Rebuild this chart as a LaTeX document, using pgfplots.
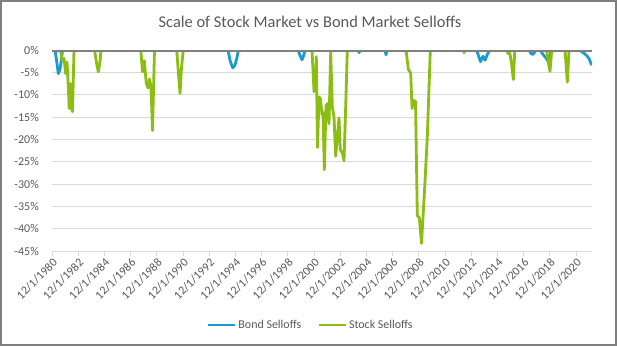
\documentclass[border=0pt]{standalone}
\usepackage{fontspec}
\setmainfont{Carlito}
\usepackage{pgfplots}
\usepackage{pgfplotstable}
\pgfplotsset{compat=1.18}
\definecolor{bondblue}{HTML}{1A9AD0}
\definecolor{stockgreen}{HTML}{8CBD14}
\definecolor{txtgray}{HTML}{595959}
\definecolor{gridgray}{HTML}{D9D9D9}
\definecolor{framegray}{HTML}{7F7F7F}
\definecolor{zerogray}{HTML}{808080}

\pgfplotstableread{
year val
1981.146 0
1981.299 -3.0
1981.398 -5.3
1981.528 -4.3
1981.642 -2.0
1981.719 0
nan nan
1994.352 0
1994.505 -2.3
1994.711 -4.0
1994.886 -3.4
1995.016 -1.9
1995.154 0
nan nan
1999.696 0
1999.848 -1.2
2000.001 -2.2
2000.154 -1.0
2000.230 0
nan nan
2004.276 0
2004.352 -0.6
2004.428 0
nan nan
2006.337 0
2006.413 -1.1
2006.490 0
nan nan
2013.322 0
2013.627 -2.6
2013.818 -1.4
2013.970 -2.3
2014.161 -0.9
2014.352 0
nan nan
2017.329 0
2017.482 -0.8
2017.635 -1.0
2017.787 -0.3
2017.940 0
nan nan
2018.169 0
2018.398 -1.0
2018.627 -1.8
2018.780 -2.5
2018.894 -1.5
2019.009 0
nan nan
2021.146 0
2021.375 -0.4
2021.680 -1.1
2021.909 -1.9
2022.115 -3.4
}\bond

\pgfplotstableread{
year val
1981.566 0
1981.703 -2.5
1981.833 -1.9
1981.963 -5.3
1982.062 -2.7
1982.161 -8.0
1982.230 -13.1
1982.314 -7.5
1982.421 -13.2
1982.482 -13.8
1982.596 0
nan nan
1984.161 0
1984.329 -3.1
1984.451 -4.9
1984.581 -2.7
1984.657 0
nan nan
1987.696 0
1987.825 -4.9
1987.963 -2.4
1988.115 -7.5
1988.245 -8.5
1988.360 -6.5
1988.474 -8.3
1988.589 -18.0
1988.741 0
nan nan
1990.436 0
1990.688 -9.7
1990.802 -4.0
1990.940 0
nan nan
2000.764 0
2000.917 -9.3
2001.032 -9.0
2001.093 -1.5
2001.184 -21.8
2001.299 -10.5
2001.413 -11.0
2001.528 -14.5
2001.604 -14.0
2001.703 -26.8
2001.833 -12.5
2001.948 -12.0
2002.062 -16.5
2002.192 -0.5
2002.314 -12.7
2002.444 -15.0
2002.573 -23.8
2002.696 -19.5
2002.825 -15.2
2002.925 -22.3
2003.077 -23.0
2003.207 -24.8
2003.337 -12.5
2003.459 0
nan nan
2007.940 0
2008.115 -4.3
2008.299 -5.2
2008.398 -13.1
2008.497 -11.3
2008.665 -11.5
2008.802 -37.1
2008.955 -37.5
2009.123 -43.3
2009.352 -31.5
2009.566 -19.4
2009.795 0
nan nan
2012.329 0
2012.367 -0.6
2012.444 0
nan nan
2015.612 0
2015.726 -0.8
2015.841 -0.3
2015.993 -3.0
2016.131 -6.6
2016.245 0
nan nan
2018.665 0
2018.818 -3.0
2018.932 -4.8
2019.062 0
nan nan
2020.077 0
2020.253 -7.2
2020.383 0
}\stock

\begin{document}
\begin{tikzpicture}[x=1bp,y=1bp]
\useasboundingbox (0,0) rectangle (617,346);
\fill[white] (0,0) rectangle (617,346);
\draw[framegray, line width=2bp] (1,1) rectangle (616,345);
\node[font=\fontsize{16.5}{18}\selectfont, text=txtgray] at (310, 324) {Scale of Stock Market vs Bond Market Selloffs};
\begin{axis}[
  at={(52bp,95bp)}, anchor=south west,
  scale only axis, width=540bp, height=201bp,
  xmin=1980.917, xmax=2022.138, ymin=-45, ymax=0,
  unbounded coords=jump,
  axis line style={draw=none},
  ymajorgrids, major grid style={gridgray, line width=0.8bp},
  ytick={-45,-40,-35,-30,-25,-20,-15,-10,-5,0},
  yticklabels={-45\%,-40\%,-35\%,-30\%,-25\%,-20\%,-15\%,-10\%,-5\%,0\%},
  ytick style={draw=none},
  xtick={1980.917,1982.917,1984.917,1986.917,1988.917,1990.917,1992.917,1994.917,1996.917,1998.917,2000.917,2002.917,2004.917,2006.917,2008.917,2010.917,2012.917,2014.917,2016.917,2018.917,2020.917},
  xticklabels={12/1/1980,12/1/1982,12/1/1984,12/1/1986,12/1/1988,12/1/1990,12/1/1992,12/1/1994,12/1/1996,12/1/1998,12/1/2000,12/1/2002,12/1/2004,12/1/2006,12/1/2008,12/1/2010,12/1/2012,12/1/2014,12/1/2016,12/1/2018,12/1/2020},
  xtick pos=bottom, tick align=outside, major tick length=5bp,
  xtick style={gridgray, line width=0.8bp},
  ticklabel style={font=\fontsize{12}{14}\selectfont, text=txtgray},
  xticklabel style={rotate=45, anchor=north east, inner sep=1bp},
  yticklabel style={anchor=east, inner sep=0bp, xshift=-8bp},
  legend style={at={(0.479,-0.368)}, anchor=center, draw=none, fill=none,
    legend columns=2, font=\fontsize{12}{14}\selectfont, text=txtgray,
    /tikz/every even column/.append style={column sep=14bp}},
  legend image code/.code={\draw[#1] (0bp,0bp) -- (27bp,0bp);},
]
\addplot[bondblue, line width=2.8bp, line join=round] table[x=year, y=val] {\bond};
\addlegendentry{Bond Selloffs}
\addplot[stockgreen, line width=2.8bp, line join=round] table[x=year, y=val] {\stock};
\addlegendentry{Stock Selloffs}
\draw[zerogray, line width=3bp] (rel axis cs:0,1) -- (rel axis cs:1,1);
\end{axis}
\end{tikzpicture}
\end{document}
